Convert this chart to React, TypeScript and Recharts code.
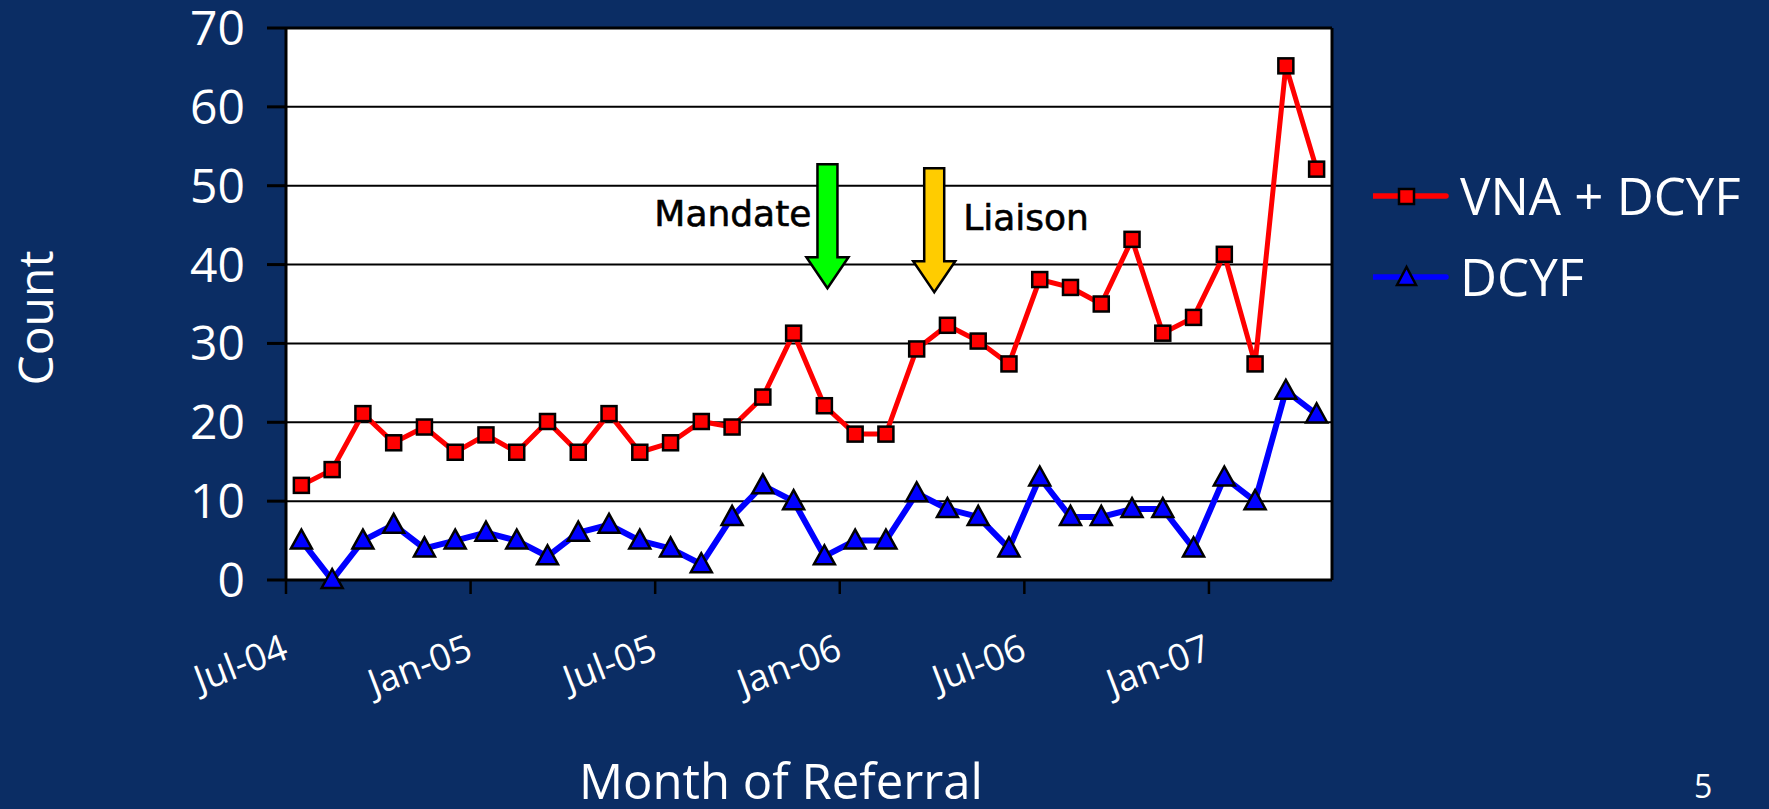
import { LineChart, Line, XAxis, YAxis, CartesianGrid, ReferenceLine, ReferenceDot, Legend, Label } from "recharts";

const months = [
  "Jul-04", "Aug-04", "Sep-04", "Oct-04", "Nov-04", "Dec-04",
  "Jan-05", "Feb-05", "Mar-05", "Apr-05", "May-05", "Jun-05",
  "Jul-05", "Aug-05", "Sep-05", "Oct-05", "Nov-05", "Dec-05",
  "Jan-06", "Feb-06", "Mar-06", "Apr-06", "May-06", "Jun-06",
  "Jul-06", "Aug-06", "Sep-06", "Oct-06", "Nov-06", "Dec-06",
  "Jan-07", "Feb-07", "Mar-07", "Apr-07",
];

const vnaDcyf = [
  12.0, 14.0, 21.1, 17.4, 19.4, 16.2, 18.4, 16.2, 20.1, 16.2, 21.1, 16.2,
  17.4, 20.1, 19.4, 23.2, 31.3, 22.1, 18.5, 18.5, 29.3, 32.3, 30.3, 27.4,
  38.1, 37.1, 35.0, 43.2, 31.3, 33.3, 41.3, 27.4, 65.2, 52.1,
];

const dcyf = [
  5, 0, 5, 7, 4, 5, 6, 5, 3, 6, 7, 5,
  4, 2, 8, 12, 10, 3, 5, 5, 11, 9, 8, 4,
  13, 8, 8, 9, 9, 4, 13, 10, 24, 21,
];

const tickLabels = ["Jul-04", "Jan-05", "Jul-05", "Jan-06", "Jul-06", "Jan-07"];
const tickPositions = [0, 6, 12, 18, 24, 30];
const yTicks = [0, 10, 20, 30, 40, 50, 60, 70];

// legend order as in the slide
const seriesOrder = ["vna", "dcyf"];

// arrow annotations: where the arrow tip sits (category position, count)
const events = [
  { name: "Mandate", x: 17.6, y: 37.0, fill: "#00FF00", side: "left" },
  { name: "Liaison", x: 21.07, y: 36.5, fill: "#FFCC00", side: "right" },
];

const data = months.map((m, i) => ({ x: i + 0.5, month: m, vna: vnaDcyf[i], dcyf: dcyf[i] }));

const BG = "#0b2d64";

const SquareDot = (props: any) => {
  const { cx, cy, index } = props;
  return (
    <rect key={`sq-${index}`} x={cx - 7.5} y={cy - 7.5} width={15} height={15}
      fill="#FF0000" stroke="#000" strokeWidth={2.5} />
  );
};

const TriangleDot = (props: any) => {
  const { cx, cy, index } = props;
  return (
    <polygon key={`tr-${index}`} points={`${cx},${cy - 11} ${cx - 10.5},${cy + 8} ${cx + 10.5},${cy + 8}`}
      fill="#0000FF" stroke="#000" strokeWidth={2.5} />
  );
};

const XTick = (props: any) => {
  const { x, y, payload } = props;
  const label = tickLabels[tickPositions.indexOf(payload.value)];
  const ax = x + 4;
  return (
    <text x={ax} y={y} textAnchor="end" fill="#fff" fontSize={37}
      fontFamily="'Open Sans', sans-serif" transform={`rotate(-21 ${ax} ${y})`}>
      {label}
    </text>
  );
};

const Arrow = (props: any) => {
  const { cx, cy, ev } = props;
  const sw = 10, hw = 21, hh = 31, len = 124;
  const pts = [
    [cx, cy], [cx - hw, cy - hh], [cx - sw, cy - hh], [cx - sw, cy - len],
    [cx + sw, cy - len], [cx + sw, cy - hh], [cx + hw, cy - hh],
  ].map((p) => p.join(",")).join(" ");
  const left = ev.side === "left";
  return (
    <g>
      <polygon points={pts} fill={ev.fill} stroke="#000" strokeWidth={2.5} />
      <text x={left ? cx - 16 : cx + 29} y={cy - 62} textAnchor={left ? "end" : "start"}
        fontSize={36} fontFamily="'DejaVu Sans', sans-serif" fill="#000"
        stroke="#000" strokeWidth={0.6}>
        {ev.name}
      </text>
    </g>
  );
};

const renderLegend = (props: any) => {
  const items = [...(props.payload || [])].sort(
    (a: any, b: any) => seriesOrder.indexOf(a.dataKey) - seriesOrder.indexOf(b.dataKey)
  );
  return (
    <div>
      {items.map((entry: any, i: number) => (
        <div key={i} style={{ display: "flex", alignItems: "center", height: 81 }}>
          <svg width={87} height={30}>
            <line x1={0} y1={15} x2={73} y2={15} stroke={entry.color} strokeWidth={5.5} strokeLinecap="round" />
            {entry.dataKey === "vna" ? (
              <rect x={26} y={8} width={15} height={15} fill="#FF0000" stroke="#000" strokeWidth={2.5} />
            ) : (
              <polygon points="33.5,5 24,23 43,23" fill="#0000FF" stroke="#000" strokeWidth={2.5} />
            )}
          </svg>
          <span style={{ color: "#fff", fontSize: 51, fontFamily: "'Open Sans', sans-serif", lineHeight: "81px" }}>
            {entry.value}
          </span>
        </div>
      ))}
    </div>
  );
};

export default function App() {
  return (
    <div style={{ position: "relative", width: 1769, height: 809, background: BG, overflow: "hidden" }}>
      <style>{"body{margin:0;background:" + BG + "}"}</style>
      <LineChart width={1769} height={809} data={data} margin={{ top: 28, right: 437, left: 0, bottom: 0 }}>
        <CartesianGrid horizontal vertical={false} stroke="#000" strokeWidth={2} fill="#fff" fillOpacity={1} />
        <XAxis dataKey="x" type="number" domain={[0, 34]} ticks={tickPositions} interval={0}
          height={229} tickSize={14} tickMargin={64}
          axisLine={{ stroke: "#000", strokeWidth: 3 }} tickLine={{ stroke: "#000", strokeWidth: 2.5 }}
          tick={(p: any) => <XTick {...p} />}>
          <Label content={() => (
            <text x={781} y={799} textAnchor="middle" fill="#fff" fontSize={49}
              fontFamily="'Open Sans', sans-serif">Month of Referral</text>
          )} />
        </XAxis>
        <YAxis type="number" domain={[0, 70]} ticks={yTicks} interval={0} width={286}
          tickSize={19} tickMargin={22}
          axisLine={{ stroke: "#000", strokeWidth: 3 }} tickLine={{ stroke: "#000", strokeWidth: 3 }}
          tick={{ fill: "#fff", fontSize: 48, fontFamily: "'Open Sans', sans-serif" }}>
          <Label content={() => (
            <text x={53} y={318} textAnchor="middle" fill="#fff" fontSize={48}
              fontFamily="'Open Sans', sans-serif" transform="rotate(-90 53 318)">Count</text>
          )} />
        </YAxis>
        <ReferenceLine x={34} stroke="#000" strokeWidth={3} />
        <ReferenceLine y={70} stroke="#000" strokeWidth={3} />
        {events.map((ev) => (
          <ReferenceDot key={ev.name} x={ev.x} y={ev.y} r={1}
            shape={(p: any) => <Arrow {...p} ev={ev} />} />
        ))}
        <Line type="linear" dataKey="vna" name="VNA + DCYF" stroke="#FF0000" strokeWidth={5}
          dot={SquareDot} activeDot={false} isAnimationActive={false} />
        <Line type="linear" dataKey="dcyf" name="DCYF" stroke="#0000FF" strokeWidth={6}
          dot={TriangleDot} activeDot={false} isAnimationActive={false} />
        <Legend layout="vertical" align="center" verticalAlign="middle" content={renderLegend}
          wrapperStyle={{ left: 1373, top: 155, width: 396 }} />
      </LineChart>
      <div style={{ position: "absolute", left: 1694, top: 766, color: "#fff", fontSize: 32,
        fontFamily: "'Open Sans', sans-serif", lineHeight: "40px" }}>5</div>
    </div>
  );
}
